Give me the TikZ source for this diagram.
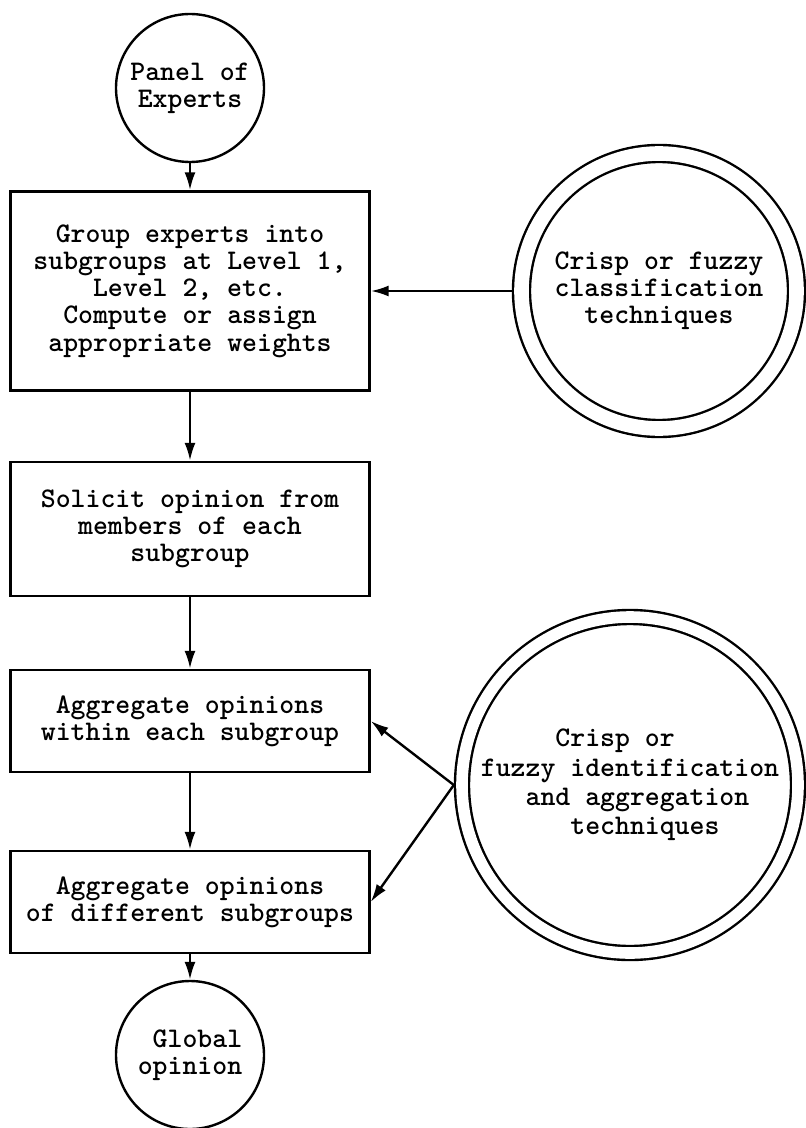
\documentclass[tikz,border=0pt]{standalone}
\usetikzlibrary{arrows.meta}
\tikzset{
  stage/.style={draw, minimum width=179.5pt, inner sep=0pt, align=center},
  ends/.style={circle, draw, minimum size=74pt, inner sep=0pt},
  ring/.style={circle, draw, double, inner sep=0pt},
  >={Latex[length=9pt,width=5.5pt]}
}
\begin{document}
\begin{tikzpicture}[x=0.5pt,y=-0.5pt,line width=1.2pt,font=\ttfamily\bfseries\fontsize{14.2}{13.6}\selectfont]
\useasboundingbox (0,0) rectangle (805,1128);

\node[ends, align=center] (panel) at (190,88) {Panel of\\Experts};
\node[stage, minimum height=99.5pt] (group) at (190,291) {Group experts into\\subgroups at Level 1,\\Level 2, etc.\\Compute or assign\\appropriate weights};
\node[stage, minimum height=67pt] (solicit) at (190,529) {Solicit opinion from\\members of each\\subgroup};
\node[stage, minimum height=51pt] (within) at (190,721) {Aggregate opinions\\within each subgroup};
\node[stage, minimum height=51pt] (across) at (190,902) {Aggregate opinions\\of different subgroups};
\node[ends, align=right] (global) at (190,1055) {Global\\opinion};

\node[ring, align=center, minimum size=137.5pt, double distance=7.3pt, outer sep=4.85pt] (classify) at (659,291) {Crisp or fuzzy\\classification\\techniques};
\node[ring, align=left, minimum size=168pt, double distance=5.8pt, outer sep=4.1pt,
  font=\ttfamily\bfseries\fontsize{14.2}{14.6}\selectfont] (aggregate) at (630,785)
  {\hphantom{fuzzy}Crisp or\\fuzzy identification\\\hphantom{fuz}and aggregation\\\hphantom{fuzzyi}techniques};

\draw[->] (panel) -- (group);
\draw[->] (group) -- (solicit);
\draw[->] (solicit) -- (within);
\draw[->] (within) -- (across);
\draw[->] (across) -- (global);
\draw[->] (classify.west) -- (group.east);
\draw[->] (aggregate.west) -- (within.east);
\draw[->] (aggregate.west) -- (across.east);
\end{tikzpicture}
\end{document}
